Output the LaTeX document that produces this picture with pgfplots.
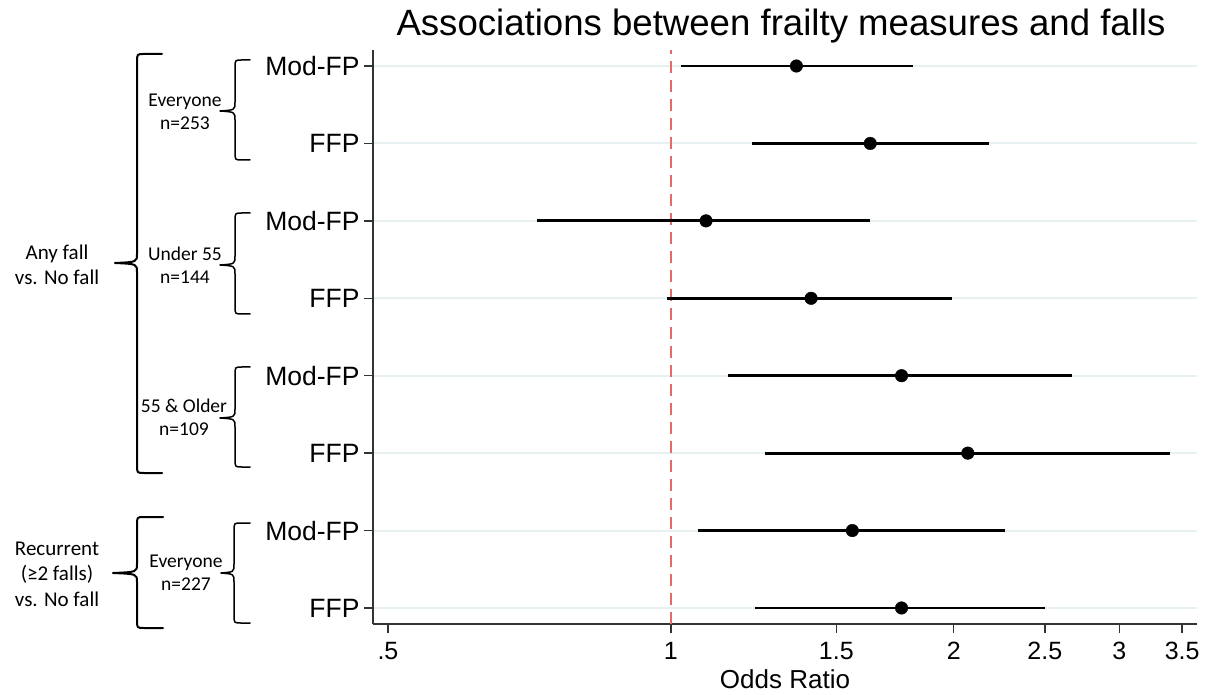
\documentclass[border=0pt]{standalone}
\usepackage{pgfplots}
\pgfplotsset{compat=1.18}
\usepackage{fontspec}
\setmainfont{Liberation Sans}
\newfontfamily\calfont{Carlito}
\definecolor{gridc}{rgb}{0.91,0.945,0.945}
\definecolor{refred}{rgb}{0.90,0.42,0.42}

% brace: x of ends, x of stem, x of tip, y top, y bottom, y tip, width
\newcommand{\mybrace}[7]{%
  \draw[line width=#7, line join=round, line cap=round]
    (#1,#4) -- ({#2+7},#4) .. controls (#2,#4) .. ({#2},{#4+8})
    -- ({#2},{#6-9}) .. controls (#2,{#6-1}) .. (#3,#6)
    .. controls (#2,{#6+1}) .. ({#2},{#6+9})
    -- ({#2},{#5-8}) .. controls (#2,#5) .. ({#2+7},#5) -- (#1,#5);}

\begin{document}
\begin{tikzpicture}
\useasboundingbox (0pt,0pt) rectangle (1212pt,694pt);

\begin{axis}[
  at={(373pt,70pt)}, anchor=south west,
  scale only axis, width=824pt, height=574pt,
  xmode=log, xmin=0.482, xmax=3.63,
  ymin=0.793, ymax=8.207,
  axis x line*=bottom, axis y line*=left,
  axis line style={line width=1.3pt, black!80, -},
  xtick={0.5,1,1.5,2,2.5,3,3.5},
  xticklabels={.5,1,1.5,2,2.5,3,3.5},
  minor xtick={},
  ytick={1,2,3,4,5,6,7,8},
  yticklabels={FFP,Mod-FP,FFP,Mod-FP,FFP,Mod-FP,FFP,Mod-FP},
  tick align=outside, major tick length=9pt,
  tick style={line width=1.3pt, black!80},
  ymajorgrids, grid style={line width=2pt, gridc},
  xticklabel style={font=\fontsize{25}{30}\selectfont, yshift=-6pt},
  yticklabel style={font=\fontsize{26.5}{31}\selectfont, xshift=-1pt},
  /pgf/number format/assume math mode=true,
  xlabel={Odds Ratio},
  xlabel style={font=\fontsize{26}{30}\selectfont, yshift=-3pt},
  clip=false,
]
% reference line at OR = 1
\addplot[refred, line width=1.8pt, dash pattern=on 12pt off 7pt] coordinates {(1,0.793) (1,8.207)};

% confidence intervals
\addplot[black, line width=2.9pt] coordinates {(1.025,8) (1.81,8)};
\addplot[black, line width=2.9pt] coordinates {(1.22,7) (2.18,7)};
\addplot[black, line width=2.9pt] coordinates {(0.72,6) (1.63,6)};
\addplot[black, line width=2.9pt] coordinates {(0.99,5) (1.99,5)};
\addplot[black, line width=2.9pt] coordinates {(1.15,4) (2.67,4)};
\addplot[black, line width=2.9pt] coordinates {(1.26,3) (3.40,3)};
\addplot[black, line width=2.9pt] coordinates {(1.07,2) (2.27,2)};
\addplot[black, line width=2.9pt] coordinates {(1.23,1) (2.50,1)};

% point estimates
\addplot[only marks, mark=*, mark size=6.3pt, black] coordinates {
  (1.36,8) (1.63,7) (1.09,6) (1.41,5) (1.76,4) (2.07,3) (1.56,2) (1.76,1)
};
\end{axis}

\begin{scope}[x=1pt, y=-1pt, yshift=694pt]
\node[font=\fontsize{36.6}{44}\selectfont] at (781,26) {Associations between frailty measures and falls};

% outer braces
\mybrace{162}{137}{115}{54}{473}{263}{2pt}
\mybrace{163}{137}{113}{517}{628}{573}{2pt}
% inner braces
\mybrace{250}{235}{220}{60}{160}{111}{1.5pt}
\mybrace{250}{235}{220}{213}{314}{265}{1.5pt}
\mybrace{250}{235}{220}{367}{467}{418}{1.5pt}
\mybrace{250}{234}{221}{523}{623}{573}{1.5pt}

% outer labels
\node[font=\calfont\fontsize{21}{25.5}\selectfont, align=center] at (57,265) {Any fall\\vs. No fall};
\node[font=\calfont\fontsize{21}{25.5}\selectfont, align=center] at (57,574) {Recurrent\\(≥2 falls)\\vs. No fall};

% inner labels
\node[font=\calfont\fontsize{19.5}{23}\selectfont, align=center] at (185,112) {Everyone\\n=253};
\node[font=\calfont\fontsize{19.5}{23}\selectfont, align=center] at (185,265) {Under 55\\n=144};
\node[font=\calfont\fontsize{19.5}{23}\selectfont, align=center] at (184,417) {55 \& Older\\n=109};
\node[font=\calfont\fontsize{19.5}{23}\selectfont, align=center] at (186,573) {Everyone\\n=227};
\end{scope}
\end{tikzpicture}
\end{document}
